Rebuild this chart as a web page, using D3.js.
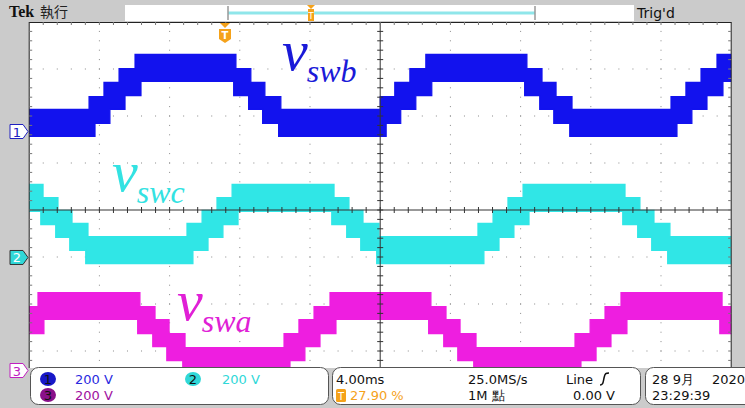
<!DOCTYPE html>
<html><head><meta charset="utf-8">
<script src="https://cdn.jsdelivr.net/npm/d3@7"></script>
<style>html,body{margin:0;padding:0;background:#cbcbcb;} svg{display:block;}</style>
</head><body>
<svg id="c" width="745" height="408"></svg>
<script>
// ---- data ----
const timeDomain = [-20, 20];        // ms (4.00 ms/div, 10 div)
const divDomain = [-4, 4];           // vertical divisions
const voltsPerDiv = 200;
const channelNames = ["vswb", "vswc", "vswa"];
const channelOffsets = [1.67, -1.01, -3.415];   // ground marker position, div
const ch1Levels = [94, 149, 209, 268, 328];     // V, band top per level
const ch2Levels = [89, 145, 200, 255, 311];
const ch3Levels = [98, 157, 217, 272, 332];
const bandWidthV = 115;
const ch1Upper = [[-20,0],[-16.59,1],[-15.74,2],[-14.88,3],[-13.97,4],[-8.22,3],[-7.37,2],[-6.57,1],[-5.66,0],[0.0,1],[0.83,2],[1.69,3],[2.60,4],[8.36,3],[9.22,2],[10.02,1],[10.93,0],[16.57,1],[17.42,2],[18.28,3],[19.19,4]];
const ch1Lower = [[-20,0],[-16.25,1],[-15.40,2],[-14.54,3],[-13.63,4],[-8.35,3],[-7.50,2],[-6.70,1],[-5.79,0],[0.34,1],[1.17,2],[2.03,3],[2.94,4],[8.23,3],[9.09,2],[9.89,1],[10.80,0],[16.91,1],[17.76,2],[18.62,3],[19.53,4]];
const ch2Upper = [[-20,4],[-19.21,3],[-18.36,2],[-17.56,1],[-16.65,0],[-11.01,1],[-10.15,2],[-9.30,3],[-8.44,4],[-2.63,3],[-1.78,2],[-0.98,1],[-0.07,0],[5.57,1],[6.43,2],[7.28,3],[8.14,4],[13.95,3],[14.80,2],[15.60,1],[16.51,0]];
const ch2Lower = [[-20,4],[-19.34,3],[-18.49,2],[-17.69,1],[-16.78,0],[-10.67,1],[-9.81,2],[-8.96,3],[-8.10,4],[-2.76,3],[-1.91,2],[-1.11,1],[-0.20,0],[5.91,1],[6.77,2],[7.62,3],[8.48,4],[13.82,3],[14.67,2],[15.47,1],[16.38,0]];
const ch3Upper = [[-20,3],[-19.50,4],[-13.69,3],[-12.83,2],[-12.03,1],[-11.12,0],[-5.48,1],[-4.63,2],[-3.77,3],[-2.86,4],[2.89,3],[3.75,2],[4.55,1],[5.46,0],[11.10,1],[11.96,2],[12.81,3],[13.72,4],[19.48,3]];
const ch3Lower = [[-20,3],[-19.16,4],[-13.82,3],[-12.96,2],[-12.16,1],[-11.25,0],[-5.14,1],[-4.29,2],[-3.43,3],[-2.52,4],[2.76,3],[3.62,2],[4.42,1],[5.33,0],[11.44,1],[12.30,2],[13.15,3],[14.06,4],[19.35,3]];
const scaleLabels = ["200 V", "200 V", "200 V"];
const timebaseLabel = "4.00ms", sampleLabel = "25.0MS/s", trigSrcLabel = "Line";
const trigPosLabel = "27.90 %", recordLabel = "1M 點", trigLevelLabel = "0.00 V";
const dateLabel = "28 9月", yearLabel = "2020", timeLabel = "23:29:39";

// ---- styles ----
const colors = ["#1212ee", "#30e6e6", "#ee1ee0"];
const labelColors = ["#1a1ad8", "#33e2e2", "#e020d6"];
const orange = "#f5a21a";

const svg = d3.select("#c");
const W = 745, H = 408;
const px0 = 29.2, px1 = 731.2, py0 = 22, pyB = 368;
const x = d3.scaleLinear().domain(timeDomain).range([px0, px1]);
const y = d3.scaleLinear().domain(divDomain).range([398, 22]);

svg.append("rect").attr("width", W).attr("height", H).attr("fill", "#cbcbcb");

// top bar
svg.append("text").attr("x", 9).attr("y", 17).attr("font-family", "Liberation Serif")
  .attr("font-weight", "bold").attr("font-size", 16).attr("fill", "#111").text("Tek");
svg.append("text").attr("x", 40).attr("y", 17).attr("font-family", "Noto Sans CJK TC")
  .attr("font-size", 14).attr("fill", "#222").text("執行");
svg.append("rect").attr("x", 125).attr("y", 5).attr("width", 509).attr("height", 16).attr("fill", "#fff");
svg.append("line").attr("x1", 228).attr("x2", 535).attr("y1", 13).attr("y2", 13).attr("stroke", "#8fe6ea").attr("stroke-width", 3);
[228, 535].forEach(v => svg.append("line").attr("x1", v).attr("x2", v).attr("y1", 6).attr("y2", 20).attr("stroke", "#999").attr("stroke-width", 1.5));
svg.append("path").attr("d", "M307,5 L315,5 L311,9 Z").attr("fill", orange);
svg.append("rect").attr("x", 308).attr("y", 9).attr("width", 6).attr("height", 12).attr("fill", orange);
svg.append("text").attr("x", 311).attr("y", 19).attr("text-anchor", "middle").attr("font-family", "DejaVu Sans")
  .attr("font-size", 9).attr("fill", "#fff").text("T");
svg.append("text").attr("x", 637).attr("y", 18).attr("font-family", "DejaVu Sans")
  .attr("font-size", 14).attr("fill", "#111").text("Trig'd");

// plot area
svg.append("rect").attr("x", px0).attr("y", py0).attr("width", px1 - px0).attr("height", pyB - py0).attr("fill", "#fff");
svg.append("clipPath").attr("id", "clip").append("rect")
  .attr("x", px0).attr("y", py0).attr("width", px1 - px0).attr("height", pyB - py0);
const plot = svg.append("g").attr("clip-path", "url(#clip)");

// grid dots
const grid = plot.append("g").attr("fill", "#8a8a8a");
const divW = (px1 - px0) / 10, divH = 47;
for (let k = 1; k <= 7; k++) {
  if (k === 4) continue;
  const yy = y(4 - k);
  for (let i = 1; i < 50; i++) grid.append("rect").attr("x", px0 + i * divW / 5 - 0.5).attr("y", yy - 0.5).attr("width", 1).attr("height", 1);
}
for (let j = 1; j <= 9; j++) {
  if (j === 5) continue;
  const xx = px0 + j * divW;
  for (let m = 1; m < 40; m++) grid.append("rect").attr("x", xx - 0.5).attr("y", py0 + m * divH / 5 - 0.5).attr("width", 1).attr("height", 1);
}

// waveforms
function levelAt(list, t) { let l = list[0][1]; for (const [t0, v] of list) { if (t0 <= t) l = v; } return l; }
function band(upper, lower, levels, off) {
  const ts = Array.from(new Set(upper.map(d => d[0]).concat(lower.map(d => d[0])))).sort((a, b) => a - b);
  ts.push(timeDomain[1]);
  return ts.map(t => ({ t, top: off + levels[levelAt(upper, t)] / voltsPerDiv,
    bot: off + (levels[levelAt(lower, t)] - bandWidthV) / voltsPerDiv }));
}
const chans = [[ch1Upper, ch1Lower, ch1Levels], [ch2Upper, ch2Lower, ch2Levels], [ch3Upper, ch3Lower, ch3Levels]];
const area = d3.area().curve(d3.curveStepAfter).x(d => x(d.t)).y0(d => y(d.bot)).y1(d => y(d.top));
chans.forEach((c, i) => {
  const data = band(c[0], c[1], c[2], channelOffsets[i]);
  plot.append("path").datum(data).attr("d", area).attr("fill", colors[i])
    .attr("stroke", colors[i]).attr("stroke-width", 1.2);
});

// center lines with ticks
const cl = svg.append("g").attr("stroke", "#333").attr("stroke-width", 1);
const cx = x(0), cy = y(0);
cl.append("line").attr("x1", px0).attr("x2", px1).attr("y1", cy).attr("y2", cy);
cl.append("line").attr("x1", cx).attr("x2", cx).attr("y1", py0).attr("y2", pyB);
for (let i = 1; i < 50; i++) { const xx = px0 + i * divW / 5; cl.append("line").attr("x1", xx).attr("x2", xx).attr("y1", cy - 3).attr("y2", cy + 3); }
for (let m = 1; m < 40; m++) { const yy = py0 + m * divH / 5; if (yy > pyB) break; cl.append("line").attr("x1", cx - 3).attr("x2", cx + 3).attr("y1", yy).attr("y2", yy); }
// border with ticks
const bd = svg.append("g").attr("stroke", "#222").attr("stroke-width", 1);
bd.append("line").attr("x1", px0).attr("x2", px1).attr("y1", py0 + 0.5).attr("y2", py0 + 0.5);
bd.append("line").attr("x1", px0).attr("x2", px0).attr("y1", py0).attr("y2", pyB);
bd.append("line").attr("x1", px1).attr("x2", px1).attr("y1", py0).attr("y2", pyB);
for (let i = 1; i < 50; i++) { const xx = px0 + i * divW / 5; bd.append("line").attr("x1", xx).attr("x2", xx).attr("y1", py0).attr("y2", py0 + 3).attr("stroke", "#777"); }
for (let m = 1; m < 40; m++) { const yy = py0 + m * divH / 5; if (yy > pyB) break;
  bd.append("line").attr("x1", px0).attr("x2", px0 + 3).attr("y1", yy).attr("y2", yy).attr("stroke", "#777");
  bd.append("line").attr("x1", px1 - 3).attr("x2", px1).attr("y1", yy).attr("y2", yy).attr("stroke", "#777"); }

// trigger position marker
svg.append("path").attr("d", "M220,23 L230,23 L225,28 Z").attr("fill", orange);
svg.append("path").attr("d", "M219,29 L231,29 L231,39 L225,43 L219,39 Z").attr("fill", orange);
svg.append("text").attr("x", 225).attr("y", 39).attr("text-anchor", "middle").attr("font-family", "DejaVu Sans")
  .attr("font-weight", "bold").attr("font-size", 10).attr("fill", "#fff").text("T");

// channel ground markers
const markerStyles = [{ fill: "#fff", stroke: "#2020c0", text: "#2020c0" }, { fill: "#30d8d8", stroke: "#333", text: "#fff" }, { fill: "#fff", stroke: "#c020c0", text: "#c020c0" }];
channelOffsets.forEach((o, i) => {
  const yy = y(o), s = markerStyles[i];
  svg.append("path").attr("d", `M10,${yy - 7} L23,${yy - 7} L28,${yy} L23,${yy + 7} L10,${yy + 7} Z`)
    .attr("fill", s.fill).attr("stroke", s.stroke).attr("stroke-width", 1);
  svg.append("text").attr("x", 17).attr("y", yy + 5).attr("text-anchor", "middle").attr("font-family", "DejaVu Sans")
    .attr("font-size", 13).attr("fill", s.text).text(String(i + 1));
});

// waveform labels
const labelPos = [[282, 70], [112, 191], [177, 320]];
channelNames.forEach((n, i) => {
  const t = svg.append("text").attr("x", labelPos[i][0]).attr("y", labelPos[i][1])
    .attr("font-family", "Liberation Serif").attr("font-style", "italic").attr("fill", labelColors[i]);
  t.append("tspan").attr("font-size", 58).text(n[0]);
  t.append("tspan").attr("font-size", 32).attr("dy", 12).attr("dx", -1).text(n.slice(1));
});

// status panels
const panel = svg.append("g");
[[30.5, 298], [332.5, 308], [645.5, 115]].forEach(([px, w]) =>
  panel.append("rect").attr("x", px).attr("y", 367.5).attr("width", w).attr("height", 37).attr("rx", 8)
    .attr("fill", "#fff").attr("stroke", "#555").attr("stroke-width", 1));
const circ = [{ cx: 48, cy: 379, fill: "#1818c8" }, { cx: 193, cy: 379, fill: "#30d8d8" }, { cx: 48, cy: 395, fill: "#8a108a" }];
const scaleTextPos = [[75, 384], [222, 384], [75, 400]];
const scaleColors = ["#2a2ae0", "#30d8d8", "#a010a0"];
circ.forEach((c, i) => {
  panel.append("ellipse").attr("cx", c.cx).attr("cy", c.cy).attr("rx", 8).attr("ry", 7).attr("fill", c.fill);
  panel.append("text").attr("x", c.cx).attr("y", c.cy + 5).attr("text-anchor", "middle").attr("font-family", "DejaVu Sans")
    .attr("font-size", 13).attr("fill", "#111").text(String(i + 1));
  panel.append("text").attr("x", scaleTextPos[i][0]).attr("y", scaleTextPos[i][1]).attr("font-family", "DejaVu Sans")
    .attr("font-size", 13).attr("fill", scaleColors[i]).text(scaleLabels[i]);
});
const ft = (tx, xx, yy, col) => panel.append("text").attr("x", xx).attr("y", yy).attr("font-family", "DejaVu Sans")
  .attr("font-size", 13).attr("fill", col || "#111").text(tx);
ft(timebaseLabel, 336, 384); ft(sampleLabel, 468, 384); ft(trigSrcLabel, 566, 384);
panel.append("path").attr("d", "M600,385 C603,385 603,383 604,378 C605,373 606,373 609,373").attr("fill", "none").attr("stroke", "#111").attr("stroke-width", 1.5);
panel.append("rect").attr("x", 336).attr("y", 389).attr("width", 10).attr("height", 13).attr("rx", 1.5).attr("fill", orange);
panel.append("text").attr("x", 341).attr("y", 400).attr("text-anchor", "middle").attr("font-family", "DejaVu Sans")
  .attr("font-size", 10).attr("fill", "#fff").text("T");
ft(trigPosLabel, 350, 400, orange); ft(recordLabel, 468, 400); ft(trigLevelLabel, 573, 400);
ft(dateLabel, 652, 384); ft(yearLabel, 712, 384); ft(timeLabel, 652, 400);
</script>
</body></html>
